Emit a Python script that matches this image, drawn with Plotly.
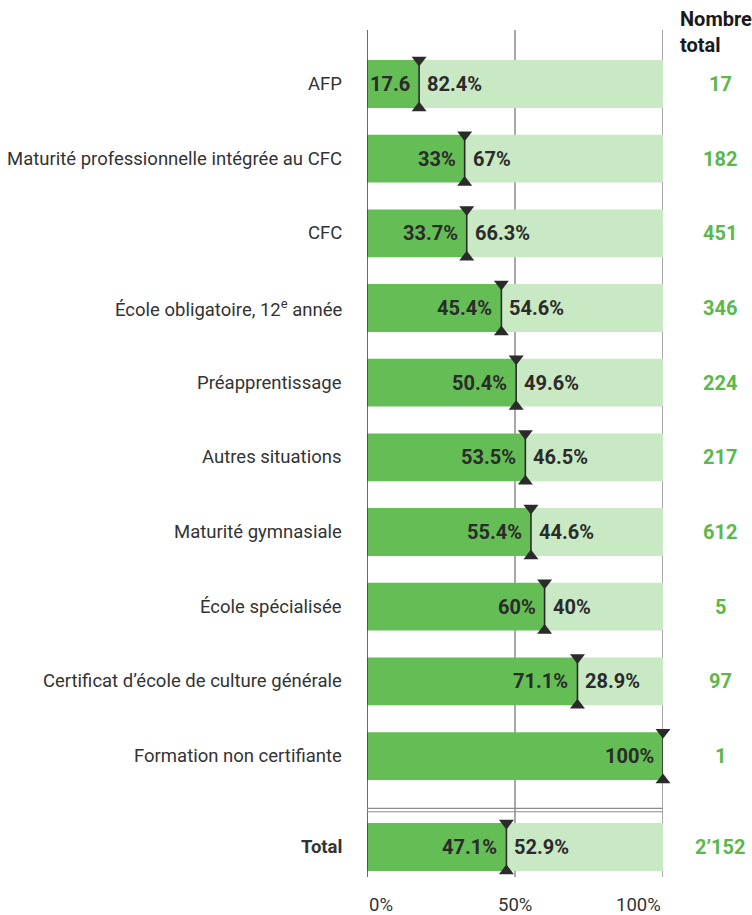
import plotly.graph_objects as go

categories = [
    "AFP",
    "Maturité professionnelle intégrée au CFC",
    "CFC",
    "École obligatoire, 12<sup>e</sup> année",
    "Préapprentissage",
    "Autres situations",
    "Maturité gymnasiale",
    "École spécialisée",
    "Certificat d’école de culture générale",
    "Formation non certifiante",
    "<b>Total</b>",
]
share_a = [17.6, 33, 33.7, 45.4, 50.4, 53.5, 55.4, 60, 71.1, 100, 47.1]
share_b = [82.4, 67, 66.3, 54.6, 49.6, 46.5, 44.6, 40, 28.9, 0, 52.9]
labels_a = ["17.6", "33%", "33.7%", "45.4%", "50.4%", "53.5%", "55.4%", "60%", "71.1%", "100%", "47.1%"]
labels_b = ["82.4%", "67%", "66.3%", "54.6%", "49.6%", "46.5%", "44.6%", "40%", "28.9%", "", "52.9%"]
totals = ["17", "182", "451", "346", "224", "217", "612", "5", "97", "1", "2’152"]
x_ticks = [0, 50, 100]
x_ticklabels = ["0%", "50%", "100%"]

# row positions (total row set apart below a separator)
ypos = [float(i) for i in range(10)] + [10.218]
sep_lines = [9.70, 9.746]

DARK = "#64be55"
LIGHT = "#c9e8c4"
NUMGREEN = "#5cb84a"
TXT = "#2b2b2b"
BOLD_FONT = "Roboto, Arial"
REG_FONT = "Roboto, Arial"
BARW = 0.64

fig = go.Figure()
fig.add_trace(go.Bar(y=ypos, x=share_a, orientation="h", marker=dict(color=DARK, line=dict(width=0)),
                     width=BARW, hoverinfo="skip"))
fig.add_trace(go.Bar(y=ypos, x=share_b, base=share_a, orientation="h",
                     marker=dict(color=LIGHT, line=dict(width=0)), width=BARW, hoverinfo="skip"))

# boundary markers: vertical line + triangles
lx, ly = [], []
for a, y in zip(share_a, ypos):
    lx += [a, a, None]
    ly += [y - BARW / 2, y + BARW / 2, None]
fig.add_trace(go.Scatter(x=lx, y=ly, mode="lines", line=dict(color=TXT, width=1.6), hoverinfo="skip",
                         cliponaxis=False))
fig.add_trace(go.Scatter(x=share_a, y=[y - BARW / 2 for y in ypos], mode="markers",
                         marker=dict(symbol="triangle-down", size=13, color=TXT, line=dict(width=0)),
                         hoverinfo="skip", cliponaxis=False))
fig.add_trace(go.Scatter(x=share_a, y=[y + BARW / 2 for y in ypos], mode="markers",
                         marker=dict(symbol="triangle-up", size=13, color=TXT, line=dict(width=0)),
                         hoverinfo="skip", cliponaxis=False))

ann = []
for cat, a, la, lb, tot, y in zip(categories, share_a, labels_a, labels_b, totals, ypos):
    ann.append(dict(x=0, y=y, xref="x", yref="y", text=cat, showarrow=False, xanchor="right",
                    xshift=-23, font=dict(family=REG_FONT, size=18.5, color="#333333")))
    ann.append(dict(x=a, y=y, xref="x", yref="y", text=f"<b>{la}</b>", showarrow=False, xanchor="right",
                    xshift=-7, font=dict(family=BOLD_FONT, size=20, color=TXT)))
    if lb:
        ann.append(dict(x=a, y=y, xref="x", yref="y", text=f"<b>{lb}</b>", showarrow=False, xanchor="left",
                        xshift=6, font=dict(family=BOLD_FONT, size=20, color=TXT)))
    ann.append(dict(x=1.1926, y=y, xref="paper", yref="y", text=f"<b>{tot}</b>", showarrow=False,
                    xanchor="center", font=dict(family=BOLD_FONT, size=20, color=NUMGREEN)))

anchors = ["left", "center", "right"]
for t, lab, an in zip(x_ticks, x_ticklabels, anchors):
    ann.append(dict(x=t, y=0, xref="x", yref="paper", text=lab, showarrow=False, xanchor=an,
                    yanchor="top", yshift=-15, font=dict(family=REG_FONT, size=18.5, color="#333333")))

ann.append(dict(x=1.052, y=1.029, xref="paper", yref="paper", text="<b>Nombre<br>total</b>",
                showarrow=False, xanchor="left", yanchor="top", align="left",
                font=dict(family=BOLD_FONT, size=20, color="#1a1a1a")))

shapes = []
for t in x_ticks[1:]:
    shapes.append(dict(type="line", xref="x", yref="paper", x0=t, x1=t, y0=0, y1=1,
                       line=dict(color="#8c8c8c", width=1.5), layer="below"))
shapes.append(dict(type="line", xref="x", yref="paper", x0=0, x1=0, y0=0, y1=1,
                   line=dict(color="#3a3a3a", width=1.5), layer="above"))
for s in sep_lines:
    shapes.append(dict(type="line", xref="x", yref="y", x0=0, x1=130.1, y0=s, y1=s,
                       line=dict(color="#8c8c8c", width=1.2), layer="above"))

fig.update_layout(
    width=752, height=915,
    margin=dict(l=367, r=89, t=30, b=38),
    paper_bgcolor="white", plot_bgcolor="white",
    barmode="overlay", showlegend=False,
    xaxis=dict(range=[0, 100], showgrid=False, zeroline=False, showticklabels=False, showline=False,
               fixedrange=True),
    yaxis=dict(range=[10.62, -0.723], showgrid=False, zeroline=False, showticklabels=False,
               showline=False, fixedrange=True),
    annotations=ann, shapes=shapes,
)

fig.write_html("out.html", config={"displayModeBar": False},
               post_script="document.body.style.margin='0';document.body.style.overflow='hidden';")
